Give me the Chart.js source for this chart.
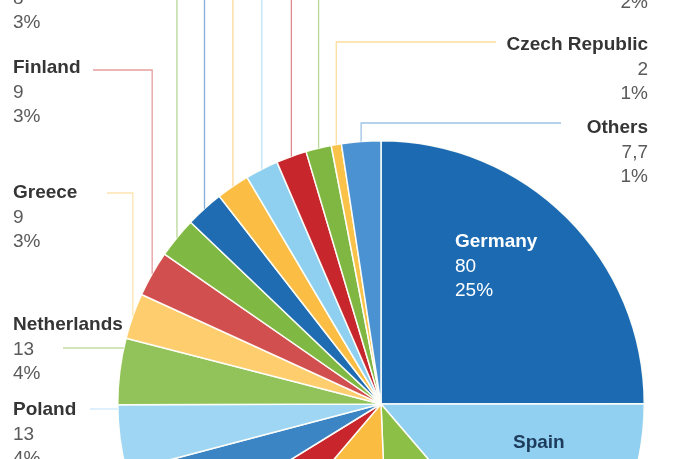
<!DOCTYPE html>
<html>
<head>
<meta charset="utf-8">
<script src="https://cdn.jsdelivr.net/npm/chart.js@4.4.0/dist/chart.umd.min.js"></script>
<style>
  html, body { margin: 0; padding: 0; background: #fff; overflow: hidden; }
  #wrap { width: 688px; height: 459px; overflow: hidden; position: relative; }
  canvas { display: block; }
</style>
</head>
<body>
<div id="wrap"><canvas id="pie" width="688" height="900"></canvas></div>
<script>
// data (clockwise from 12 o'clock)
const countries = ["Germany", "Spain", "France", "United Kingdom", "Italy", "Sweden",
  "Poland", "Netherlands", "Greece", "Finland", "Portugal", "Belgium", "Austria",
  "Denmark", "Romania", "Ireland", "Czech Republic", "Others"];
const capacity = [80, 44, 34, 38, 16, 15, 13, 13, 9, 9, 8, 7.5, 6.5, 6.5, 6, 5, 2, 7.7];
const shares = ["25%", "14%", "11%", "12%", "5%", "5%", "4%", "4%", "3%", "3%",
  "3%", "2%", "2%", "2%", "2%", "2%", "1%", "1%"];
const sliceColors = ["#1c6bb2", "#92d0f1", "#8cbf45", "#fbbc42", "#c9252c", "#3c85c5",
  "#9fd6f3", "#92c25a", "#fdcd6e", "#d14f4f", "#7fb843", "#1f6cb3", "#fbbd43",
  "#8fd0f0", "#c8262d", "#80b743", "#fbc24a", "#4b92d2"];

// where each label sits (null = label falls outside the picture)
const labelSpots = [
  { x: 455, y: 247, align: "left", name: "#fff", val: "#fff" },
  { x: 513, y: 448, align: "left", name: "#1d3c5c", val: "#1d3c5c" },
  null, null, null, null,
  { x: 13, y: 415, align: "left", line: { x: 90, y: 409, mode: "h" } },
  { x: 13, y: 330, align: "left", line: { x: 63, y: 348, mode: "h" } },
  { x: 13, y: 198, align: "left", line: { x: 107, y: 193 } },
  { x: 13, y: 73, align: "left", line: { x: 93, y: 70 } },
  { x: 13, y: -21, align: "left", line: { x: 93, y: -26 } },
  { x: 13, y: -130, align: "left", line: { x: 93, y: -135 } },
  { x: 13, y: -240, align: "left", line: { x: 93, y: -245 } },
  { x: 648, y: -300, align: "right", line: { x: 500, y: -305 } },
  { x: 648, y: -210, align: "right", line: { x: 500, y: -215 } },
  { x: 648, y: -41, align: "right", line: { x: 500, y: -46 } },
  { x: 648, y: 50, align: "right", line: { x: 496, y: 42 } },
  { x: 648, y: 133, align: "right", line: { x: 561, y: 123 } },
];

const FONT = '"Liberation Sans", Arial, sans-serif';
const LINE_H = 24.5;

const pieLabels = {
  id: "pieLabels",
  afterDatasetsDraw(chart) {
    const ctx = chart.ctx;
    const arcs = chart.getDatasetMeta(0).data;
    arcs.forEach((arc, i) => {
      const spot = labelSpots[i];
      if (!spot) return;
      const { x: cx, y: cy, startAngle, endAngle, outerRadius: r } =
        arc.getProps(["x", "y", "startAngle", "endAngle", "outerRadius"], true);

      if (spot.line) {
        ctx.save();
        ctx.strokeStyle = sliceColors[i];
        ctx.globalAlpha = 0.55;
        ctx.lineWidth = 1.3;
        ctx.beginPath();
        if (spot.line.mode === "h") {
          const dy = spot.line.y - cy;
          const rimX = cx - Math.sqrt(r * r - dy * dy);
          ctx.moveTo(spot.line.x, spot.line.y);
          ctx.lineTo(rimX, spot.line.y);
        } else {
          const mid = (startAngle + endAngle) / 2;
          const ax = cx + r * Math.cos(mid);
          const ay = cy + r * Math.sin(mid);
          ctx.moveTo(spot.line.x, spot.line.y);
          ctx.lineTo(ax, spot.line.y);
          ctx.lineTo(ax, ay);
        }
        ctx.stroke();
        ctx.restore();
      }

      ctx.save();
      ctx.textAlign = spot.align;
      ctx.textBaseline = "alphabetic";
      ctx.fillStyle = spot.name || "#353535";
      ctx.font = "bold 19px " + FONT;
      ctx.fillText(countries[i], spot.x, spot.y);
      ctx.fillStyle = spot.val || "#5a5a5a";
      ctx.font = "19px " + FONT;
      ctx.fillText(String(capacity[i]).replace(".", ","), spot.x, spot.y + LINE_H);
      ctx.fillText(shares[i], spot.x, spot.y + LINE_H * 2);
      ctx.restore();
    });
  }
};

new Chart(document.getElementById("pie"), {
  type: "pie",
  data: {
    labels: countries,
    datasets: [{
      data: capacity,
      backgroundColor: sliceColors,
      borderColor: "rgba(255,255,250,0.95)",
      borderWidth: 1.5,
    }],
  },
  options: {
    responsive: false,
    animation: false,
    devicePixelRatio: 1,
    layout: { padding: { left: 117, right: 43, top: 140, bottom: 232 } },
    plugins: {
      legend: { display: false },
      tooltip: { enabled: false },
    },
  },
  plugins: [pieLabels],
});
</script>
</body>
</html>
